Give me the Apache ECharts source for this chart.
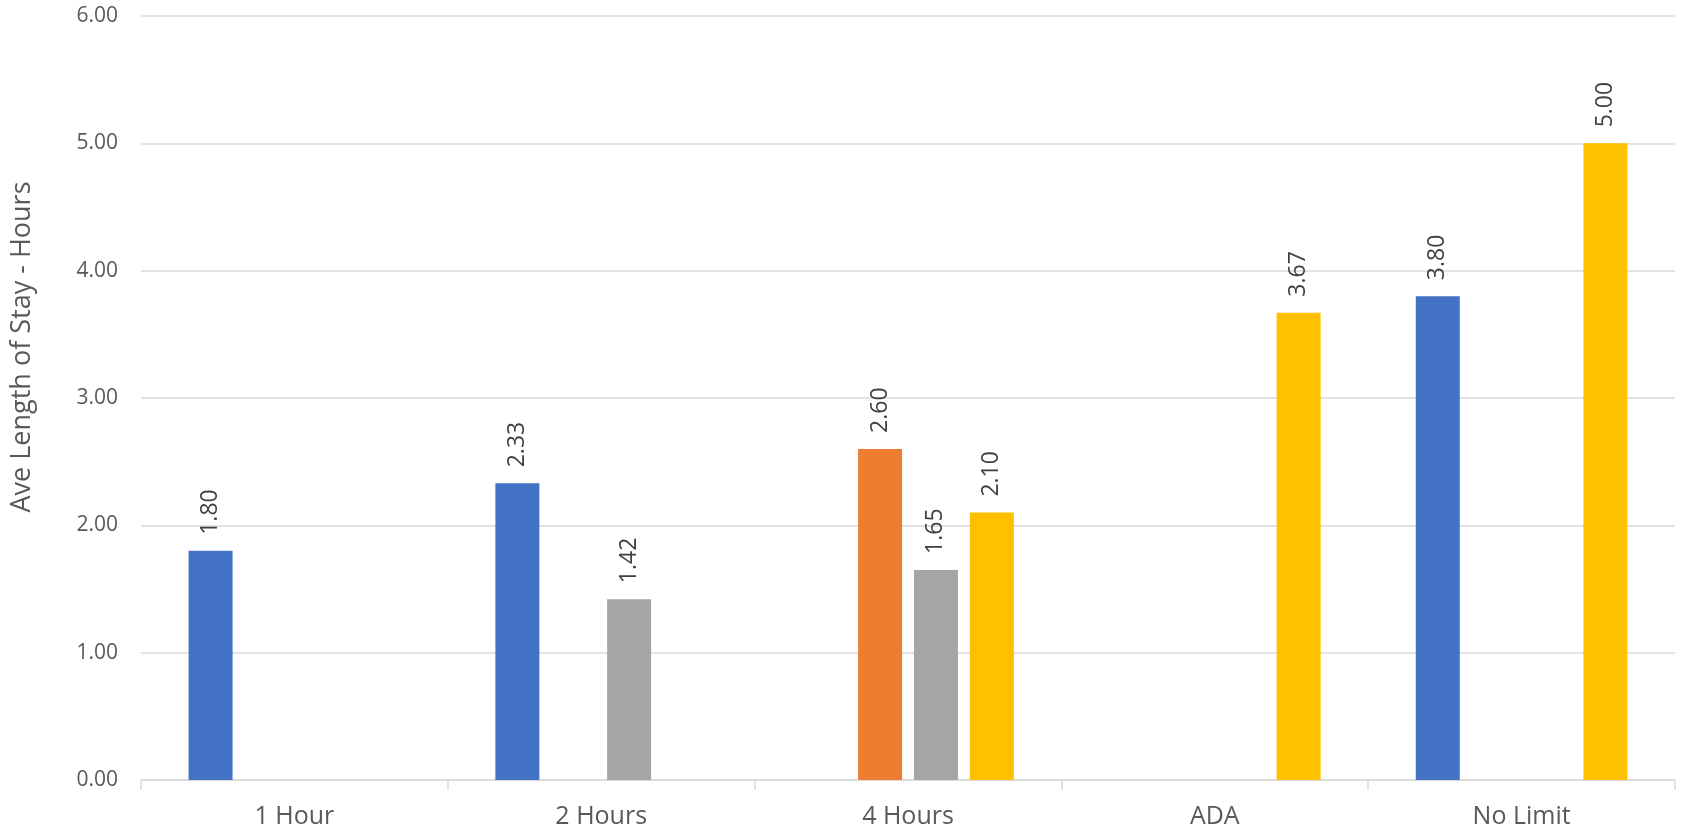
<!DOCTYPE html>
<html>
<head>
<meta charset="utf-8">
<script src="https://cdn.jsdelivr.net/npm/echarts@6/dist/echarts.min.js"></script>
<style>
html,body{margin:0;padding:0;background:#fff;}
#chart{width:1688px;height:835px;}
</style>
</head>
<body>
<div id="chart"></div>
<script>
const categories = ['1 Hour', '2 Hours', '4 Hours', 'ADA', 'No Limit'];
const seriesBlue   = [1.80, 2.33, null, null, 3.80];
const seriesOrange = [null, null, 2.60, null, null];
const seriesGray   = [null, 1.42, 1.65, null, null];
const seriesYellow = [null, null, 2.10, 3.67, 5.00];
const yTicks = { min: 0, max: 6, interval: 1 };
const axisTitle = 'Ave Length of Stay - Hours';

const FONT = 'Open Sans';
const labelStyle = {
  show: true,
  position: 'top',
  rotate: 90,
  align: 'left',
  verticalAlign: 'middle',
  distance: 16,
  color: '#404040',
  fontFamily: FONT,
  fontSize: 23,
  formatter: p => p.value == null ? '' : Number(p.value).toFixed(2)
};
function mk(name, data, color) {
  return {
    name, type: 'bar', data,
    barWidth: 44, barGap: '27%',
    itemStyle: { color },
    label: labelStyle
  };
}
const chart = echarts.init(document.getElementById('chart'));
chart.setOption({
  animation: false,
  grid: { left: 141, right: 13, top: 16, bottom: 55 },
  xAxis: {
    type: 'category',
    data: categories,
    axisLine: { lineStyle: { color: '#d9d9d9', width: 1.5 } },
    axisTick: { show: true, length: 10, lineStyle: { color: '#d9d9d9', width: 1.5 } },
    axisLabel: { color: '#595959', fontFamily: FONT, fontSize: 25, margin: 24 }
  },
  yAxis: {
    type: 'value',
    min: yTicks.min, max: yTicks.max, interval: yTicks.interval,
    axisLine: { show: false },
    axisTick: { show: false },
    splitLine: { lineStyle: { color: '#d9d9d9', width: 1.5 } },
    axisLabel: { color: '#595959', fontFamily: FONT, fontSize: 21, margin: 23,
      formatter: v => v.toFixed(2) }
  },
  graphic: [{
    type: 'text',
    x: 22, y: 347,
    rotation: Math.PI / 2,
    style: {
      text: axisTitle,
      fill: '#595959',
      font: '27px "Open Sans"',
      textAlign: 'center',
      textVerticalAlign: 'middle'
    }
  }],
  series: [
    mk('Series 1', seriesBlue, '#4472C4'),
    mk('Series 2', seriesOrange, '#ED7D31'),
    mk('Series 3', seriesGray, '#A5A5A5'),
    mk('Series 4', seriesYellow, '#FFC000')
  ]
});
</script>
</body>
</html>
